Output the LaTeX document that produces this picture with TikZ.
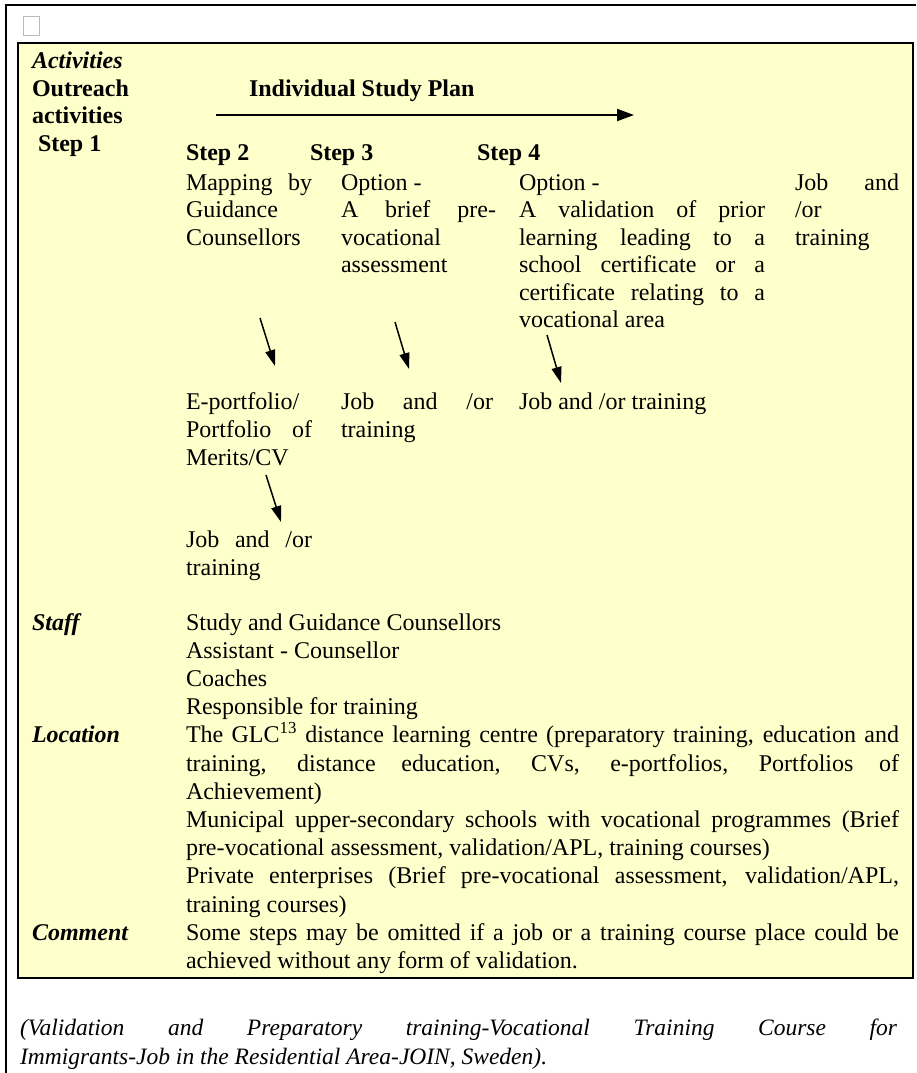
\documentclass[tikz,border=0pt]{standalone}
\usepackage{fontspec}
\setmainfont{Liberation Serif}
\usetikzlibrary{arrows.meta}
\definecolor{boxyellow}{RGB}{255,255,204}
\newcommand{\jl}[2]{\makebox[#1pt][s]{#2}}
\begin{document}
\begin{tikzpicture}[x=1pt,y=-1pt,
  txt/.style={anchor=base west,inner sep=0pt,outer sep=0pt,font=\fontsize{24}{27.7}\selectfont},
  bi/.style={txt,font=\fontsize{24}{27.7}\selectfont\bfseries\itshape},
  bd/.style={txt,font=\fontsize{24}{27.7}\selectfont\bfseries},
  captxt/.style={txt,font=\fontsize{23.5}{30}\selectfont\itshape},
  flow/.style={line width=1.5pt,-{Triangle[length=16pt,width=10pt]}},
  frameline/.style={line width=2.4pt,black}]
\useasboundingbox (0,0) rectangle (916,1073);
\fill[white] (0,0) rectangle (916,1073);
% outer frame and box
\draw[frameline] (6,1073) -- (6,5) -- (916,5);
\draw[gray!55,line width=0.8pt] (23,16) rectangle (39,35);
\draw[frameline,fill=boxyellow] (18,43) rectangle (913,978);
% left labels
\node[bi] (lact) at (32,69) {Activities};
\node[bd] (lout) at (32,96) {Outreach};
\node[bd] (lacts) at (32,123) {activities};
\node[bd] (lst1) at (38,151) {Step 1};
% study plan arrow
\node[bd] (isp) at (249,96) {Individual Study Plan};
\coordinate (ispA) at (216,115);
\coordinate (ispB) at (634,115);
\draw[line width=2pt,-{Triangle[length=17pt,width=12pt]}] (ispA) -- (ispB);
% steps
\node[bd] (st2) at (186,160) {Step 2};
\node[bd] (st3) at (310,160) {Step 3};
\node[bd] (st4) at (477,160) {Step 4};
% column 1
\node[txt] (c1a) at (186,190) {\jl{126}{Mapping by}};
\node[txt] (c1b) at (186,217) {Guidance};
\node[txt] (c1c) at (186,245) {Counsellors};
% column 2
\node[txt] (c2a) at (341,190) {Option -};
\node[txt] (c2b) at (341,217) {\jl{155}{A brief pre-}};
\node[txt] (c2c) at (341,245) {vocational};
\node[txt] (c2d) at (341,272) {assessment};
% column 3
\node[txt] (c3a) at (519,190) {Option -};
\node[txt] (c3b) at (519,217) {\jl{246}{A validation of prior}};
\node[txt] (c3c) at (519,245) {\jl{246}{learning leading to a}};
\node[txt] (c3d) at (519,272) {\jl{246}{school certificate or a}};
\node[txt] (c3e) at (519,300) {\jl{246}{certificate relating to a}};
\node[txt] (c3f) at (519,327) {vocational area};
% column 4
\node[txt] (c4a) at (795,190) {\jl{104}{Job and}};
\node[txt] (c4b) at (795,217) {/or};
\node[txt] (c4c) at (795,245) {training};
% down arrows
\coordinate (a1s) at (260,318); \coordinate (a1e) at (275,366);
\coordinate (a2s) at (395,322); \coordinate (a2e) at (409,369);
\coordinate (a3s) at (547,335); \coordinate (a3e) at (561,383);
\coordinate (a4s) at (266,475); \coordinate (a4e) at (281,522);
\draw[flow] (a1s) -- (a1e);
\draw[flow] (a2s) -- (a2e);
\draw[flow] (a3s) -- (a3e);
\draw[flow] (a4s) -- (a4e);
% second row
\node[txt] (r1a) at (186,409) {E-portfolio/};
\node[txt] (r1b) at (186,437) {\jl{126}{Portfolio of}};
\node[txt] (r1c) at (186,465) {Merits/CV};
\node[txt] (r2a) at (341,409) {\jl{152}{Job and /or}};
\node[txt] (r2b) at (341,437) {training};
\node[txt] (r3a) at (519,409) {Job and /or training};
\node[txt] (r4a) at (186,547) {\jl{126}{Job and /or}};
\node[txt] (r4b) at (186,575) {training};
% staff
\node[bi] (lstaff) at (32,630) {Staff};
\node[txt] (s1) at (186,630) {Study and Guidance Counsellors};
\node[txt] (s2) at (186,658.2) {Assistant - Counsellor};
\node[txt] (s3) at (186,686.4) {Coaches};
\node[txt] (s4) at (186,714.6) {Responsible for training};
% location
\node[bi] (lloc) at (32,742.8) {Location};
\node[txt] (l1) at (186,742.8) {\jl{713}{The GLC\textsuperscript{13} distance learning centre (preparatory training, education and}};
\node[txt] (l2) at (186,771) {\jl{713}{training, distance education, CVs, e-portfolios, Portfolios of}};
\node[txt] (l3) at (186,799.2) {Achievement)};
\node[txt] (l4) at (186,827.4) {\jl{713}{Municipal upper-secondary schools with vocational programmes (Brief}};
\node[txt] (l5) at (186,855.6) {pre-vocational assessment, validation/APL, training courses)};
\node[txt] (l6) at (186,883.8) {\jl{713}{Private enterprises (Brief pre-vocational assessment, validation/APL,}};
\node[txt] (l7) at (186,912) {training courses)};
% comment
\node[bi] (lcom) at (32,940.2) {Comment};
\node[txt] (m1) at (186,940.2) {\jl{713}{Some steps may be omitted if a job or a training course place could be}};
\node[txt] (m2) at (186,968.4) {achieved without any form of validation.};
% caption
\node[captxt] (cp1) at (20,1035) {\jl{877}{(Validation and Preparatory training-Vocational Training Course for}};
\node[captxt] (cp2) at (20,1064) {Immigrants-Job in the Residential Area-JOIN, Sweden).};
\end{tikzpicture}
\end{document}
